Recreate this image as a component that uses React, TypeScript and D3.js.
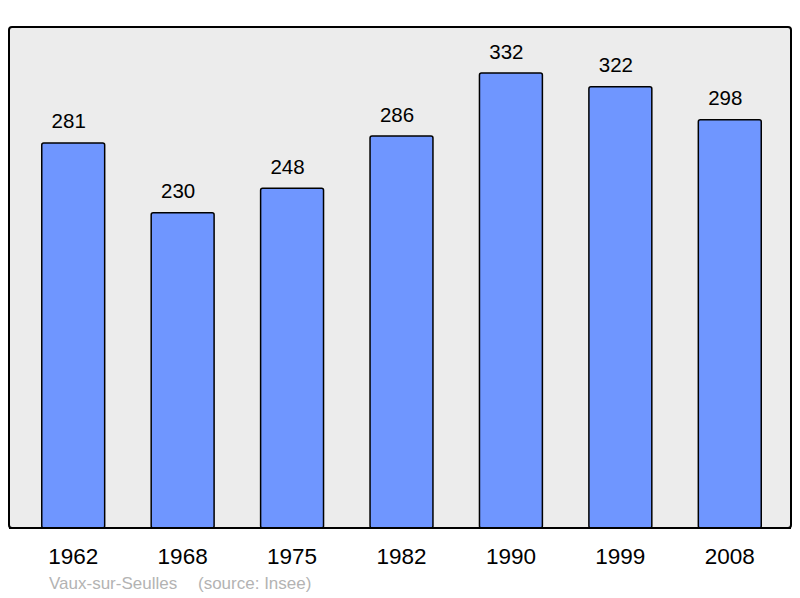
import * as d3 from 'd3';

const years = ['1962', '1968', '1975', '1982', '1990', '1999', '2008'];
const population = [281, 230, 248, 286, 332, 322, 298];
const placeName = 'Vaux-sur-Seulles';
const sourceNote = '(source: Insee)';

const WIDTH = 800;
const HEIGHT = 598;
const frame = { left: 9, top: 27, right: 791, bottom: 528 };

export default function App() {
  const x = d3
    .scaleBand<string>()
    .domain(years)
    .range([18.5, 784.5])
    .padding(0);

  const y = d3
    .scaleLinear()
    .domain([0, 365.6])
    .range([frame.bottom, frame.top]);

  const barWidth = x.bandwidth() * 0.575;

  return (
    <svg
      width={WIDTH}
      height={HEIGHT}
      style={{ position: 'absolute', left: 0, top: 0, display: 'block' }}
      fontFamily="'Liberation Sans', Arial, sans-serif"
    >
      <rect x={0} y={0} width={WIDTH} height={HEIGHT} fill="#ffffff" />
      <rect
        x={frame.left}
        y={frame.top}
        width={frame.right - frame.left}
        height={frame.bottom - frame.top}
        rx={3}
        fill="#ececec"
        stroke="#000"
        strokeWidth={2}
      />
      {years.map((yr, i) => {
        const cx = (x(yr) ?? 0) + x.bandwidth() / 2;
        const top = y(population[i]);
        return (
          <g key={yr}>
            <rect
              x={cx - barWidth / 2}
              y={top}
              width={barWidth}
              height={y(0) - top}
              rx={2}
              fill="#6f96ff"
              stroke="#000"
              strokeWidth={1.5}
            />
            <text
              x={cx - 4.5}
              y={top - 14.5}
              textAnchor="middle"
              fontSize={20.5}
              fill="#000"
            >
              {population[i]}
            </text>
            <text x={cx} y={564} textAnchor="middle" fontSize={22.5} fill="#000">
              {yr}
            </text>
          </g>
        );
      })}
      {/* redraw the frame bottom so it sits over the bars */}
      <line
        x1={frame.left}
        x2={frame.right}
        y1={frame.bottom}
        y2={frame.bottom}
        stroke="#000"
        strokeWidth={2}
      />
      <text x={49} y={589} fontSize={17} fill="#b3b3b3">
        {placeName}
      </text>
      <text x={198} y={589} fontSize={17} fill="#b3b3b3">
        {sourceNote}
      </text>
    </svg>
  );
}
